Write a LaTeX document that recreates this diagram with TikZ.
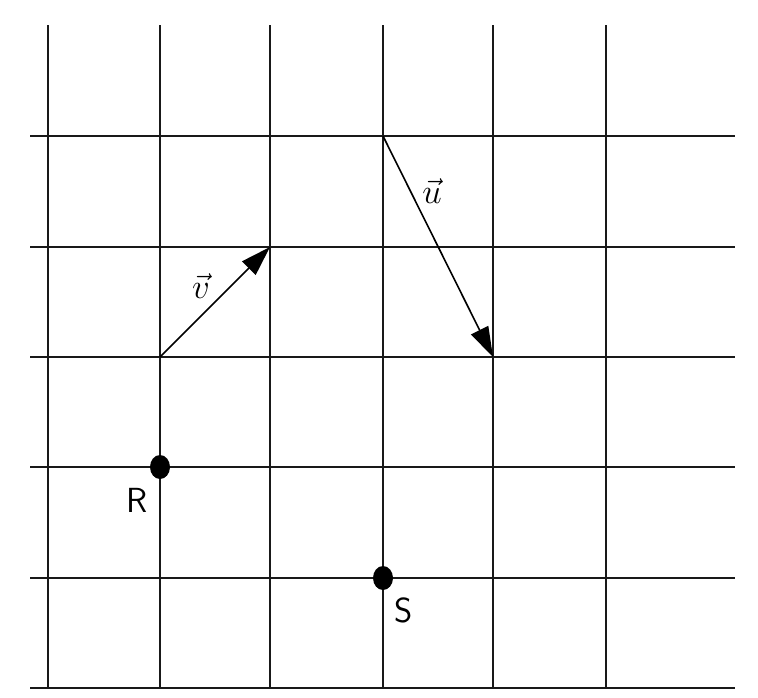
\documentclass[tikz,border=0pt]{standalone}
\usetikzlibrary{arrows.meta,shapes.geometric}
\begin{document}
\begin{tikzpicture}[x=1pt,y=-1pt,
  gridline/.style={line width=2pt,black!90},
  vec/.style={line width=1.6pt,-{Triangle[length=30pt,width=19pt]}},
  dotpt/.style={ellipse,fill=black,inner sep=0pt,minimum width=20pt,minimum height=24pt},
  lbl/.style={font=\Huge\sffamily,scale=1.4},
  vlbl/.style={font=\Huge,scale=1.4}]
\useasboundingbox (0,0) rectangle (758,697);
\fill[white] (0,0) rectangle (758,697);
% vertical grid lines
\foreach \x in {48,160,270,383,493,606}
  \draw[gridline] (\x,25) -- (\x,688);
% horizontal grid lines
\foreach \y in {136,247,357,467,578,688}
  \draw[gridline] (30,\y) -- (735,\y);
% vector endpoints
\coordinate (v0) at (160,357);
\coordinate (v1) at (270,247);
\coordinate (u0) at (383,136);
\coordinate (u1) at (493,357);
\draw[vec] (v0) -- (v1);
\draw[vec] (u0) -- (u1);
\node[vlbl] (vl) at (201,286) {$\vec{v}$};
\node[vlbl] (ul) at (432,191) {$\vec{u}$};
% points
\node[dotpt] (R) at (160,467) {};
\node[dotpt] (S) at (383,578) {};
\node[lbl] (Rl) at (137,500) {R};
\node[lbl] (Sl) at (404,610) {S};
\end{tikzpicture}
\end{document}
